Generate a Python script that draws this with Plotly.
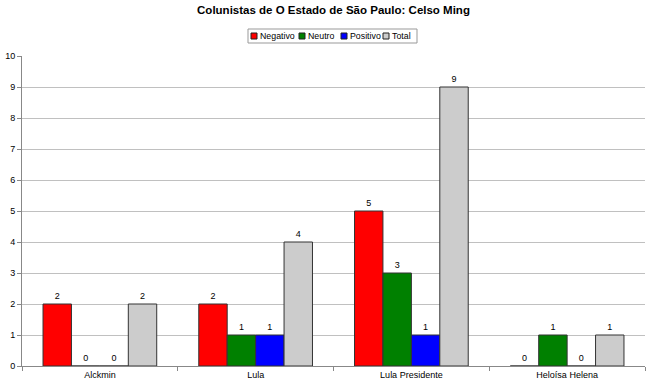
import plotly.graph_objects as go

categories = ["Alckmin", "Lula", "Lula Presidente", "Heloísa Helena"]
negativo = [2, 2, 5, 0]
neutro = [0, 1, 3, 1]
positivo = [0, 1, 1, 0]
total = [2, 4, 9, 1]

series_names = ["Negativo", "Neutro", "Positivo", "Total"]
series_values = [negativo, neutro, positivo, total]
series_colors = ["#ff0000", "#008000", "#0000ff", "#cccccc"]

W, H = 650, 388
L, R, T, B = 22, 5, 56, 22
PW, PH = W - L - R, H - T - B


def px_x(px):
    return (px - L) / PW


def px_y(py):
    return (H - B - py) / PH


fig = go.Figure()
for name, vals, color in zip(series_names, series_values, series_colors):
    fig.add_trace(go.Bar(
        name=name, x=categories, y=vals,
        marker=dict(color=color, line=dict(color="#333333", width=1)),
        text=[str(v) for v in vals], textposition="outside",
        textfont=dict(size=9, color="black"), cliponaxis=False,
        showlegend=False,
    ))

# manual compact legend (Excel style)
shapes = []
annotations = []
shapes.append(dict(type="rect", xref="paper", yref="paper",
                   x0=px_x(248), x1=px_x(417), y0=px_y(43), y1=px_y(29),
                   line=dict(color="#999999", width=1), fillcolor="white", layer="above"))
entry_left = [251, 299, 341, 383]
for name, color, lx in zip(series_names, series_colors, entry_left):
    shapes.append(dict(type="rect", xref="paper", yref="paper",
                       x0=px_x(lx), x1=px_x(lx + 6), y0=px_y(39), y1=px_y(33),
                       line=dict(color="#222222", width=1), fillcolor=color, layer="above"))
    annotations.append(dict(text=name, xref="paper", yref="paper",
                            x=px_x(lx + 6.5), y=px_y(36), xanchor="left", yanchor="middle",
                            showarrow=False, font=dict(size=8.8, color="black")))

fig.update_layout(
    width=W, height=H,
    margin=dict(l=L, r=R, t=T, b=B),
    paper_bgcolor="white", plot_bgcolor="white",
    font=dict(family="Liberation Sans, Arial, sans-serif", size=9, color="black"),
    title=dict(text="<b>Colunistas de O Estado de São Paulo: Celso Ming</b>",
               x=0.5, xanchor="center", xref="paper", y=1 - 10 / H, yanchor="middle",
               font=dict(size=11.5)),
    barmode="group", bargap=0.27, bargroupgap=0,
    showlegend=False,
    shapes=shapes, annotations=annotations,
)
fig.update_xaxes(showline=True, linecolor="#888888", linewidth=1,
                 ticks="outside", tickson="boundaries", ticklen=4, tickcolor="#888888",
                 showgrid=False, tickfont=dict(size=9), automargin=False)
fig.update_yaxes(range=[0, 10], dtick=1, showline=True, linecolor="#888888", linewidth=1,
                 ticks="outside", ticklen=4, tickcolor="#888888",
                 showgrid=True, gridcolor="#c0c0c0", gridwidth=1,
                 zeroline=False, tickfont=dict(size=9), automargin=False)

fig.write_html("out.html", config={"displayModeBar": False},
               post_script="document.body.style.margin='0';")
